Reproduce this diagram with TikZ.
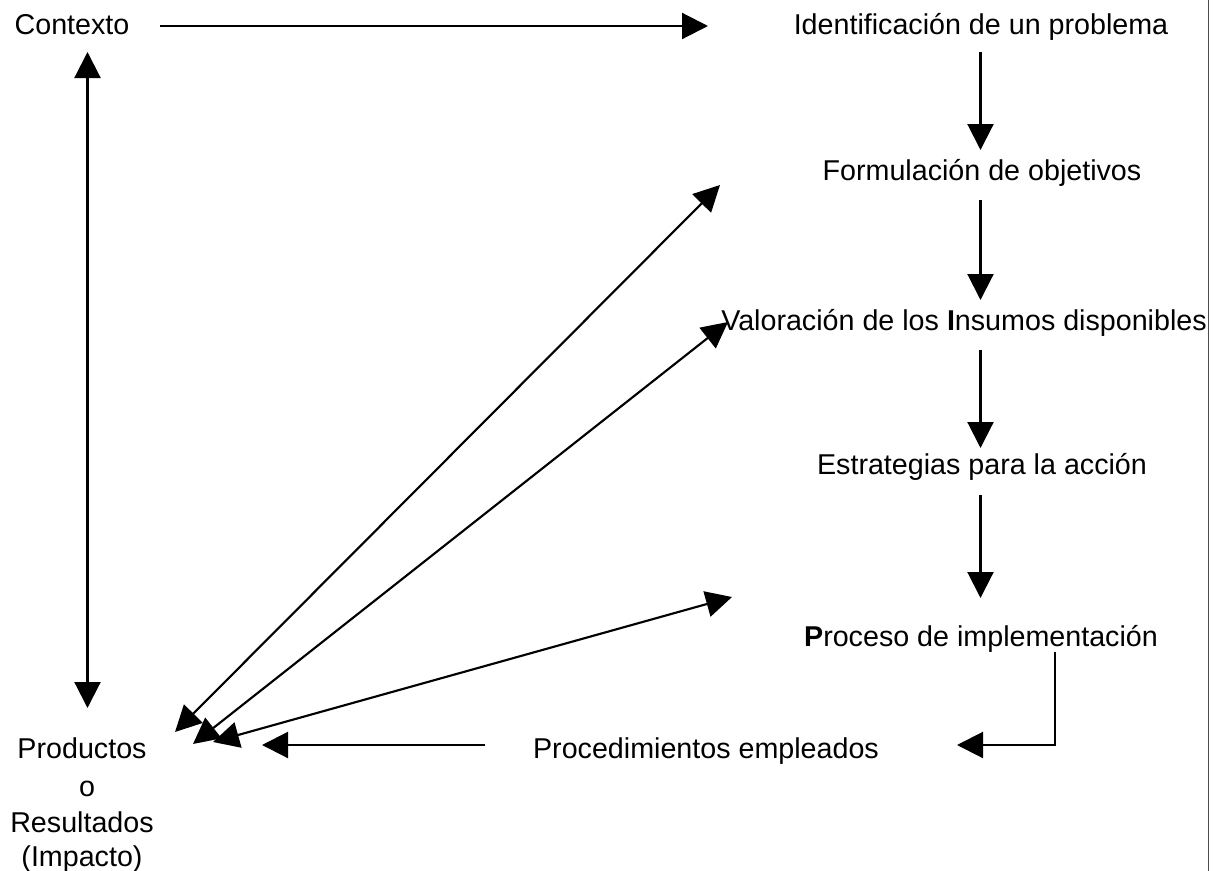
\documentclass[tikz,border=0pt]{standalone}
\usepackage{fontspec}
\setmainfont{Liberation Sans}
\usetikzlibrary{arrows.meta}
\begin{document}
\begin{tikzpicture}[x=0.75pt,y=-0.75pt,
  lbl/.style={font=\fontsize{21.5pt}{25pt}\selectfont, inner sep=0pt, anchor=base},
  conn/.style={line width=1.6pt, -{Triangle[length=19.5pt,width=19.5pt]}},
  dconn/.style={line width=1.6pt, {Triangle[length=19.5pt,width=19.5pt]}-{Triangle[length=19.5pt,width=19.5pt]}}]
\useasboundingbox (0,0) rectangle (1215,871);
\draw[line width=1.3pt, draw=black!70] (1208.5,0) -- (1208.5,871);
% texts
\node[lbl] (ctx) at (72,34) {Contexto};
\node[lbl] (idp) at (981,34) {Identificación de un problema};
\node[lbl] (fob) at (982,180) {Formulación de objetivos};
\node[lbl] (val) at (964,330) {Valoración de los \textbf{I}nsumos disponibles};
\node[lbl] (est) at (982,474) {Estrategias para la acción};
\node[lbl] (pro) at (981,646) {\textbf{P}roceso de implementación};
\node[lbl] (pem) at (706,758) {Procedimientos empleados};
\node[lbl] (prod1) at (82,758) {Productos};
\node[lbl] (prod2) at (87,796) {o};
\node[lbl] (prod3) at (82,832) {Resultados};
\node[lbl] (prod4) at (82,866) {(Impacto)};
% coordinates for connector ends
\coordinate (c1) at (160,26);  \coordinate (c2) at (708,26);
\coordinate (v1) at (87.5,52); \coordinate (v2) at (87.5,708);
\coordinate (a1) at (980.5,52);  \coordinate (a2) at (980.5,150);
\coordinate (b1) at (980.5,200); \coordinate (b2) at (980.5,300);
\coordinate (e1) at (980.5,350); \coordinate (e2) at (980.5,448);
\coordinate (f1) at (980.5,495); \coordinate (f2) at (980.5,598);
\coordinate (g1) at (1055,652); \coordinate (g2) at (957,745);
\coordinate (h1) at (485,745); \coordinate (h2) at (262,745);
\coordinate (d1a) at (175,732); \coordinate (d1b) at (720,185);
\coordinate (d2a) at (193,744); \coordinate (d2b) at (728,322);
\coordinate (d3a) at (213,742); \coordinate (d3b) at (732,597);
% connectors
\draw[conn] (c1) -- (c2);
\draw[dconn] (v1) -- (v2);
\draw[conn] (a1) -- (a2);
\draw[conn] (b1) -- (b2);
\draw[conn] (e1) -- (e2);
\draw[conn] (f1) -- (f2);
\draw[conn] (g1) |- (g2);
\draw[conn] (h1) -- (h2);
\draw[dconn] (d1a) -- (d1b);
\draw[dconn] (d2a) -- (d2b);
\draw[dconn] (d3a) -- (d3b);
\end{tikzpicture}
\end{document}
